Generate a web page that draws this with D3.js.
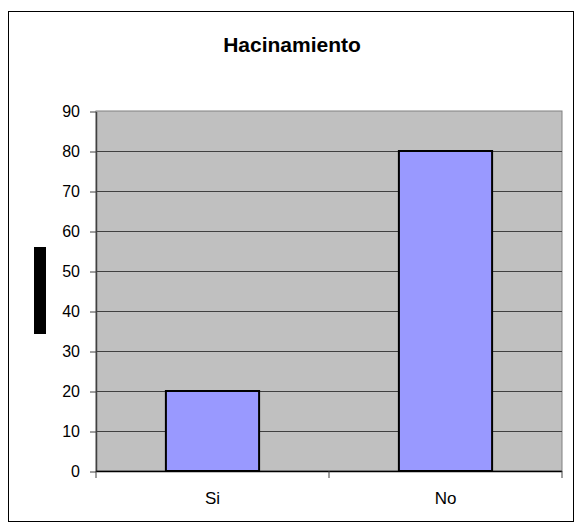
<!DOCTYPE html>
<html>
<head>
<meta charset="utf-8">
<script src="https://cdn.jsdelivr.net/npm/d3@7"></script>
<style>
  body { margin: 0; background: #fff; }
  svg { display: block; font-family: Arial, "Liberation Sans", sans-serif; }
</style>
</head>
<body>
<div id="chart"></div>
<script>
// data
const categories = ["Si", "No"];
const values = [20, 80];
const yTicks = [0, 10, 20, 30, 40, 50, 60, 70, 80, 90];

const width = 579, height = 526,
    margin = ({ top: 111, right: 17, bottom: 55, left: 96 });

const svg = d3.select("#chart")
    .append("svg")
    .attr("width", width)
    .attr("height", height);

// outer frame
svg.append("rect")
    .attr("x", 8.5).attr("y", 11.5)
    .attr("width", 565).attr("height", 510)
    .attr("fill", "#fff")
    .attr("stroke", "#000");

let x = d3.scaleBand()
    .domain(categories)
    .range([margin.left, width - margin.right])
    .paddingInner(0.6)
    .paddingOuter(0.3);

let y = d3.scaleLinear()
    .domain([0, 90])
    .range([height - margin.bottom, margin.top]);

// plot area
svg.append("rect")
    .attr("x", margin.left).attr("y", y(90))
    .attr("width", width - margin.right - margin.left)
    .attr("height", y(0) - y(90))
    .attr("fill", "#c0c0c0")
    .attr("stroke", "#808080");

// gridlines
svg.append("g")
    .selectAll("line")
    .data(yTicks.filter(d => d > 0 && d < 90))
    .join("line")
    .attr("x1", margin.left).attr("x2", width - margin.right)
    .attr("y1", d => y(d) + 0.5).attr("y2", d => y(d) + 0.5)
    .attr("stroke", "#404040");

// bars
svg.append("g")
    .selectAll("rect")
    .data(values)
    .join("rect")
    .attr("x", (d, i) => x(categories[i]))
    .attr("y", d => y(d))
    .attr("width", x.bandwidth())
    .attr("height", d => y(0) - y(d))
    .attr("fill", "#9999ff")
    .attr("stroke", "#000")
    .attr("stroke-width", 2);

// y axis
const yAxis = svg.append("g")
    .attr("transform", `translate(${margin.left},0.5)`)
    .call(d3.axisLeft(y).tickValues(yTicks).tickSize(6).tickPadding(10).tickSizeOuter(0));
yAxis.select(".domain").attr("stroke", "#404040").attr("stroke-width", 1.5);
yAxis.selectAll(".tick line").attr("stroke", "#404040");
yAxis.selectAll("text")
    .style("font-size", "16px")
    .style("font-family", "Arial, 'Liberation Sans', sans-serif")
    .attr("fill", "#000");

// x axis
const xEdges = [margin.left, (x(categories[0]) + x.bandwidth() + x(categories[1])) / 2, width - margin.right];
const xAxis = svg.append("g");
xAxis.append("line")
    .attr("x1", margin.left).attr("x2", width - margin.right)
    .attr("y1", y(0) + 0.5).attr("y2", y(0) + 0.5)
    .attr("stroke", "#000").attr("stroke-width", 1.5);
xAxis.selectAll(".edge")
    .data(xEdges)
    .join("line")
    .attr("class", "edge")
    .attr("x1", d => d).attr("x2", d => d)
    .attr("y1", y(0)).attr("y2", y(0) + 7)
    .attr("stroke", "#404040");
xAxis.selectAll("text")
    .data(categories)
    .join("text")
    .attr("x", d => x(d) + x.bandwidth() / 2)
    .attr("y", y(0) + 33)
    .attr("text-anchor", "middle")
    .style("font-size", "17px")
    .text(d => d);

// y label (blacked out in the original)
svg.append("rect")
    .attr("x", 34).attr("y", 247)
    .attr("width", 12).attr("height", 87)
    .attr("fill", "#000");

// title
svg.append("text")
    .attr("x", 292)
    .attr("y", 52)
    .attr("text-anchor", "middle")
    .style("font-size", "21px")
    .attr("font-weight", "bold")
    .text("Hacinamiento");
</script>
</body>
</html>
